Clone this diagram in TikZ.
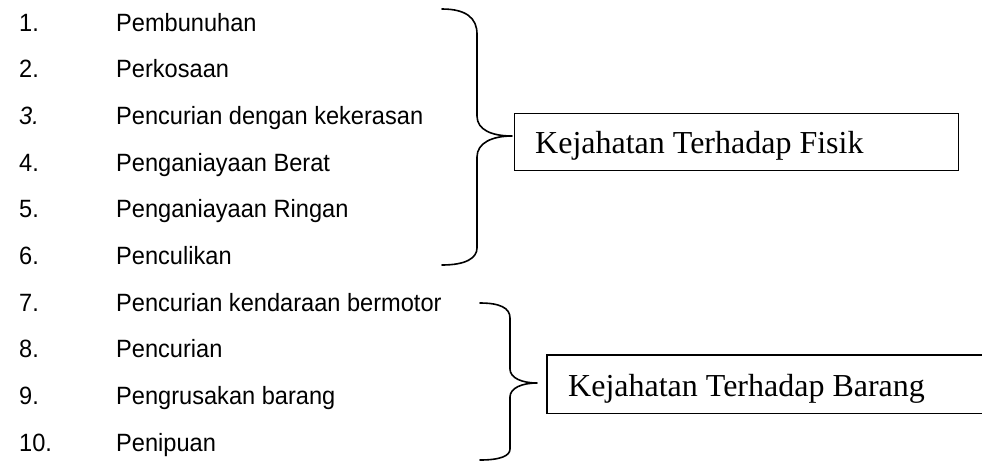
\documentclass[tikz,border=0pt]{standalone}
\usepackage{fontspec}
\setmainfont{Liberation Serif}
\newfontfamily\itemfont[FakeStretch=0.944]{Liberation Sans}
\begin{document}
\begin{tikzpicture}[x=1pt,y=-1pt,
  itemtext/.style={anchor=base west,inner sep=0pt,font=\itemfont\fontsize{25}{25}\selectfont},
  boxtext/.style={anchor=base west,inner sep=0pt,font=\fontsize{32}{32}\selectfont},
  bracepath/.style={line width=1.6pt,line cap=round,line join=round},
  boxline/.style={line width=1.3pt}]
\useasboundingbox (0,0) rectangle (982,461);
% numbers
\node[itemtext] (n1) at (19,31) {1.};
\node[itemtext] (n2) at (19,77.7) {2.};
\node[itemtext] (n3) at (19,124.4) {\itshape 3.};
\node[itemtext] (n4) at (19,171.1) {4.};
\node[itemtext] (n5) at (19,217.8) {5.};
\node[itemtext] (n6) at (19,264.5) {6.};
\node[itemtext] (n7) at (19,311.2) {7.};
\node[itemtext] (n8) at (19,357.9) {8.};
\node[itemtext] (n9) at (19,404.6) {9.};
\node[itemtext] (n10) at (19,451.3) {10.};
% items
\node[itemtext] (i1) at (116,31) {Pembunuhan};
\node[itemtext] (i2) at (116,77.7) {Perkosaan};
\node[itemtext] (i3) at (116,124.4) {Pencurian dengan kekerasan};
\node[itemtext] (i4) at (116,171.1) {Penganiayaan Berat};
\node[itemtext] (i5) at (116,217.8) {Penganiayaan Ringan};
\node[itemtext] (i6) at (116,264.5) {Penculikan};
\node[itemtext] (i7) at (116,311.2) {Pencurian kendaraan bermotor};
\node[itemtext] (i8) at (116,357.9) {Pencurian};
\node[itemtext] (i9) at (116,404.6) {Pengrusakan barang};
\node[itemtext] (i10) at (116,451.3) {Penipuan};
% box 1
\node[draw,boxline,anchor=north west,minimum width=444pt,minimum height=57pt,inner sep=0pt] (box1) at (514,113) {};
\node[boxtext] (t1) at (535,153) {Kejahatan Terhadap Fisik};
% box 2 (open at the right edge)
\node[anchor=north west,minimum width=460pt,minimum height=58pt,inner sep=0pt] (box2) at (547,355) {};
\node[boxtext] (t2) at (568,396) {Kejahatan Terhadap Barang};
\begin{scope}
\clip (0,0) rectangle (982,461);
\draw[boxline] (box2.north east) -- (box2.north west) -- (box2.south west) -- (box2.south east);
\end{scope}
% brace 1
\coordinate (b1top) at (442,9);
\coordinate (b1tip) at (512,136);
\coordinate (b1bot) at (442,265);
\draw[bracepath] (b1top) .. controls (466,9) and (477,18) .. (477,34) -- (477,116)
  .. controls (477,130) and (492,136) .. (b1tip)
  .. controls (492,136) and (477,143) .. (477,157) -- (477,248)
  .. controls (477,258) and (466,265) .. (b1bot);
% brace 2
\coordinate (b2top) at (480,303);
\coordinate (b2tip) at (537,383);
\coordinate (b2bot) at (480,460);
\draw[bracepath] (b2top) .. controls (500,303) and (510,308) .. (510,318) -- (510,369)
  .. controls (510,378) and (522,383) .. (b2tip)
  .. controls (522,383) and (510,388) .. (510,397) -- (510,449)
  .. controls (510,456) and (500,460) .. (b2bot);
\end{tikzpicture}
\end{document}
